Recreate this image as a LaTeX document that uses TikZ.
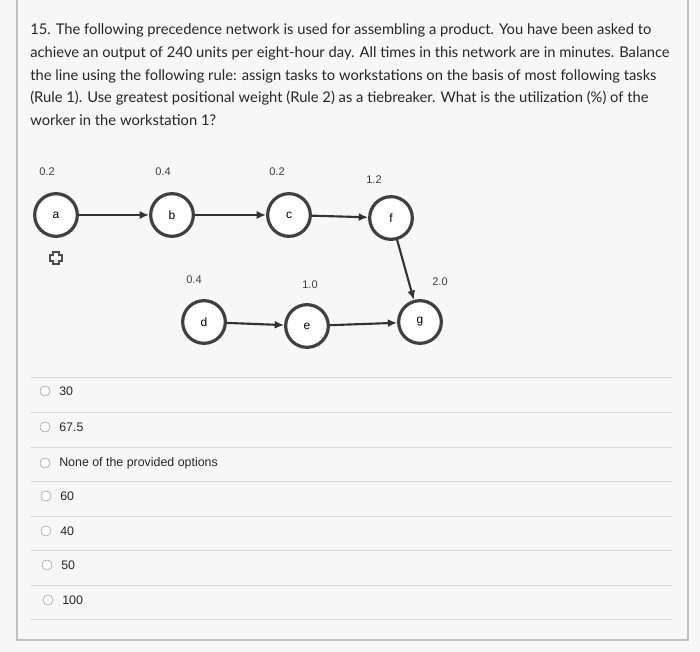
\documentclass[tikz,border=0pt]{standalone}
\usepackage{fontspec}
\setmainfont{Lato}
\newfontfamily\arialf{Liberation Sans}
\usetikzlibrary{arrows.meta}
\begin{document}
\begin{tikzpicture}[x=0.75pt,y=-0.75pt,
  q/.style={anchor=west,inner sep=0,font=\fontsize{11.05}{13}\selectfont,text=black!85},
  nd/.style={circle,draw=black!75,line width=2.4pt,minimum size=32pt,inner sep=0,fill=white,font=\arialf\fontsize{9}{10}\selectfont},
  wt/.style={inner sep=0,font=\arialf\fontsize{8.3}{9}\selectfont,text=black!75},
  ar/.style={-{Latex[length=7pt,width=6pt]},line width=1.6pt,draw=black!80},
  opt/.style={anchor=west,inner sep=0,font=\arialf\fontsize{9.3}{11}\selectfont,text=black!85},
  rb/.style={circle,draw=black!40,fill=white,minimum size=7.5pt,inner sep=0},
  sep/.style={draw=black!15,line width=0.6pt}]
\fill[black!3] (0,0) rectangle (700,652);
\useasboundingbox (0,0) rectangle (700,652);
\draw[black!25,line width=0.8pt] (17,0) -- (17,640) -- (688,640) -- (688,0);
\node[q] (l1) at (30,30) {15. The following precedence network is used for assembling a product. You have been asked to};
\node[q] (l2) at (30,53) {achieve an output of 240 units per eight-hour day. All times in this network are in minutes. Balance};
\node[q] (l3) at (30,76) {the line using the following rule: assign tasks to workstations on the basis of most following tasks};
\node[q] (l4) at (30,98) {(Rule 1). Use greatest positional weight (Rule 2) as a tiebreaker. What is the utilization (\%) of the};
\node[q] (l5) at (30,120) {worker in the workstation 1?};
\node[nd] (a) at (56,215) {a};
\node[nd] (b) at (172,215) {b};
\node[nd] (c) at (289,215) {c};
\node[nd] (f) at (391,218) {f};
\node[nd] (d) at (204,322) {d};
\node[nd] (e) at (307,326) {e};
\node[nd] (g) at (420,322) {g};
\node[wt] (wa) at (47,172) {0.2};
\node[wt] (wb) at (163,172) {0.4};
\node[wt] (wc) at (277,172) {0.2};
\node[wt] (wf) at (374,180) {1.2};
\node[wt] (wd) at (194,280) {0.4};
\node[wt] (we) at (310,285) {1.0};
\node[wt] (wg) at (440,282) {2.0};
\draw[ar] (a) -- (b);
\draw[ar] (b) -- (c);
\draw[ar] (c) -- (f);
\draw[ar] (f) -- (g);
\draw[ar] (d) -- (e);
\draw[ar] (e) -- (g);
\draw[black!70,line width=0.9pt,fill=white] (53,252)--(59,252)--(59,255)--(62,255)--(62,261)--(59,261)--(59,264)--(53,264)--(53,261)--(50,261)--(50,255)--(53,255)--cycle;
\foreach \y in {377,412,447,481,516,550,585,619} \draw[sep] (30,\y) -- (672,\y);
\node[rb] (r1) at (45,391) {};
\node[opt] (o1) at (59,391) {30};
\node[rb] (r2) at (45,427) {};
\node[opt] (o2) at (59,427) {67.5};
\node[rb] (r3) at (45,463) {};
\node[opt] (o3) at (59,463) {None of the provided options};
\node[rb] (r4) at (46,496) {};
\node[opt] (o4) at (60,496) {60};
\node[rb] (r5) at (46,531) {};
\node[opt] (o5) at (60,531) {40};
\node[rb] (r6) at (47,565) {};
\node[opt] (o6) at (61,565) {50};
\node[rb] (r7) at (48,600) {};
\node[opt] (o7) at (62,600) {100};
\end{tikzpicture}
\end{document}
